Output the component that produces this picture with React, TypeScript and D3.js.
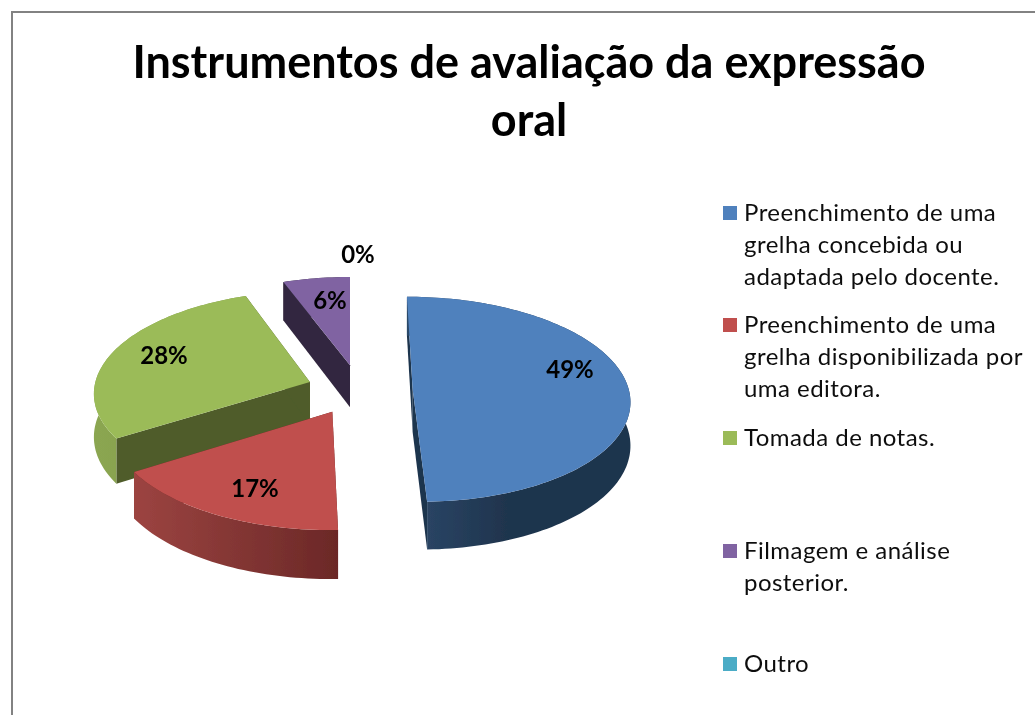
import React from "react";
import * as d3 from "d3";

const titleLines = ["Instrumentos de avaliação da expressão", "oral"];
const categories = [
  ["Preenchimento de uma", "grelha concebida ou", "adaptada pelo docente."],
  ["Preenchimento de uma", "grelha disponibilizada por", "uma editora."],
  ["Tomada de notas."],
  ["Filmagem e análise", "posterior."],
  ["Outro"],
];
const values = [49.5, 16.5, 28.4, 5.6, 0];
const labels = ["49%", "17%", "28%", "6%", "0%"];
const colors = ["#4f81bd", "#c0504d", "#9bbb59", "#8064a2", "#4bacc6"];
const cutWall = ["#1f344d", "#5e2422", "#4f5c2a", "#32283f", "#1f5a6a"];
const wallFrom = ["#2c4869", "#9c4441", "#8ba651", "#32283f", "#2a7a90"];
const wallTo = ["#1f344d", "#6b2827", "#7f984a", "#32283f", "#2a7a90"];

// layout: per-slice pull-out on the pie's plane, label anchors, legend rows
const explodeU = [0.29, -0.08, -0.187, 0.0, 0];
const explodeV = [0.0, -0.22, 0.07, 0.24, 0];
const labelX = [570, 255, 164, 330, 358];
const labelY = [370, 489, 356, 301, 255];
const legendY = [221, 333, 446, 559, 672];
const cx = 350, cy = 389, A = 216, B = 101.5, K = 0.1, DEPTH = 43;

const project = (u: number, v: number, drop = 0): [number, number] => {
  const w = 1 + K * v;
  return [cx + (A * u) / w, cy - (B * v) / w + (drop * DEPTH) / w];
};
const lineGen = d3.line<[number, number]>().x((d) => d[0]).y((d) => d[1]);

const arcs = d3.pie<number>().sort(null)(values);

function sliceShapes(i: number) {
  const a = arcs[i];
  const eu = explodeU[i], ev = explodeV[i];
  const n = Math.max(2, Math.ceil((a.endAngle - a.startAngle) * 40));
  const angles = d3.range(n + 1).map((k) => a.startAngle + ((a.endAngle - a.startAngle) * k) / n);
  const rim = angles.map((t) => [eu + Math.sin(t), ev + Math.cos(t)] as [number, number]);
  const rimTop = rim.map(([u, v]) => project(u, v));
  const rimBot = rim.map(([u, v]) => project(u, v, 1));
  const apexTop = project(eu, ev);
  const apexBot = project(eu, ev, 1);
  const top = lineGen([apexTop, ...rimTop])! + "Z";
  const outer = lineGen([...rimTop, ...[...rimBot].reverse()])! + "Z";
  const cutA = lineGen([apexTop, rimTop[0], rimBot[0], apexBot])! + "Z";
  const cutB = lineGen([apexTop, rimTop[n], rimBot[n], apexBot])! + "Z";
  return { top, outer, cutA, cutB };
}

const drawOrder = [3, 2, 0, 1];
const font = "Lato, Carlito, Calibri, sans-serif";

export default function App() {
  return (
    <svg
      width={1035}
      height={715}
      style={{ position: "absolute", left: 0, top: 0, display: "block", background: "#fff" }}
    >
      <defs>
        {values.map((_, i) => (
          <linearGradient key={i} id={`wall${i}`} x1="0" x2="1" y1="0" y2="0">
            <stop offset="0" stopColor={wallFrom[i]} />
            <stop offset={i === 0 ? "0.45" : "1"} stopColor={wallTo[i]} />
          </linearGradient>
        ))}
        <filter id="soft" x="0" y="0" width="100%" height="100%">
          <feGaussianBlur stdDeviation="0.45" />
        </filter>
      </defs>
      <g filter="url(#soft)">
        <path d="M11.5 720V11.5H1040" fill="none" stroke="#828282" strokeWidth={3} />
        <text textAnchor="middle" fontFamily={font} fontWeight={700} fontSize={45} fill="#000">
          {titleLines.map((t, i) => (
            <tspan key={i} x={529} y={78 + i * 58}>{t}</tspan>
          ))}
        </text>
        {drawOrder.map((i) => {
          const s = sliceShapes(i);
          return (
            <g key={i}>
              <path d={s.cutA} fill={cutWall[i]} />
              <path d={s.cutB} fill={cutWall[i]} />
              <path d={s.outer} fill={`url(#wall${i})`} />
              <path d={s.top} fill={colors[i]} />
            </g>
          );
        })}
        {labels.map((l, i) => (
          <text key={i} x={labelX[i]} y={labelY[i]} dy="0.35em" textAnchor="middle"
            fontFamily={font} fontWeight={700} fontSize={24} fill="#000">{l}</text>
        ))}
        {categories.map((lines, i) => (
          <g key={i}>
            <rect x={723} y={legendY[i] - 15} width={14} height={14} fill={colors[i]} />
            {lines.map((t, j) => (
              <text key={j} x={744} y={legendY[i] + j * 32} fontFamily={font} fontSize={24}
                letterSpacing={0.46} fill="#111">{t}</text>
            ))}
          </g>
        ))}
      </g>
    </svg>
  );
}
